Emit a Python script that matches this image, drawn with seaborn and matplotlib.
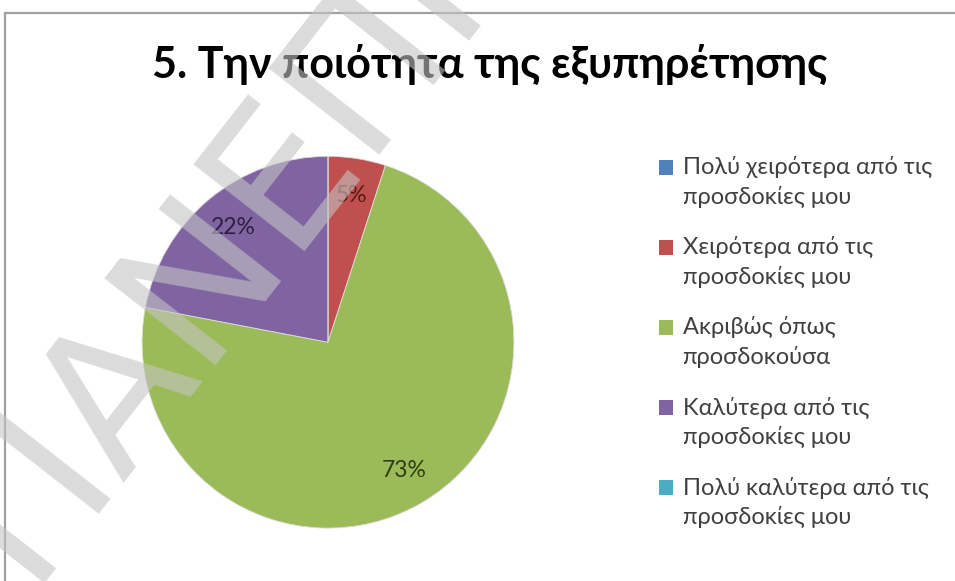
import matplotlib
matplotlib.use("Agg")
import matplotlib.pyplot as plt
import seaborn as sns
from matplotlib.lines import Line2D
from matplotlib.patches import Patch, Rectangle
from matplotlib.legend_handler import HandlerPatch

sns.set_theme(style="white")
plt.rcParams["font.family"] = ["Lato", "DejaVu Sans"]

# Survey answers and their shares (%)
categories = [
    "Πολύ χειρότερα από τις\nπροσδοκίες μου",
    "Χειρότερα από τις\nπροσδοκίες μου",
    "Ακριβώς όπως\nπροσδοκούσα",
    "Καλύτερα από τις\nπροσδοκίες μου",
    "Πολύ καλύτερα από τις\nπροσδοκίες μου",
]
shares = [0, 5, 73, 22, 0]
colors = ["#4F81BD", "#C0504D", "#9BBB59", "#8064A2", "#4BACC6"]
title = "5. Την ποιότητα της εξυπηρέτησης"
watermark = "ΠΑΝΕΠΙΣΤΗΜΙΟ"

fig = plt.figure(figsize=(9.55, 5.81), dpi=100)
fig.patch.set_facecolor("white")

# chart frame (top and left edges visible)
fig.add_artist(Line2D([0.005, 1.0], [0.978, 0.978], color="#a0a0a0", lw=1.6,
                      transform=fig.transFigure))
fig.add_artist(Line2D([0.005, 0.005], [0.0, 0.978], color="#a0a0a0", lw=1.6,
                      transform=fig.transFigure))

ax = fig.add_axes([0.1487, 0.091, 0.3895, 0.640])


def pct_label(p):
    return f"{p:.0f}%" if p > 0.5 else ""


wedges, _, autotexts = ax.pie(
    shares, colors=colors, startangle=90, counterclock=False,
    autopct=pct_label, pctdistance=0.8,
    wedgeprops=dict(edgecolor="#dddddd", linewidth=0.6),
    textprops=dict(fontsize=16.5, color="#2a2a2a"),
)
autotexts[1].set_color("#5a1a18")
autotexts[2].set_color("#2f3d14")
autotexts[3].set_color("#2c2040")
ax.set_xlim(-1, 1)
ax.set_ylim(-1, 1)
ax.set_aspect("equal")
ax.axis("off")

fig.text(0.5126, 0.866, title, ha="center", va="baseline", fontsize=31,
         fontweight="bold", color="black")

# legend squares sit beside the first line of each two-line label
LEG_FS = 17
LINE_SPACING = 1.43
SHIFT = 11.0  # points


def top_square(legend, orig_handle, xdescent, ydescent, width, height, fontsize):
    return Rectangle((-xdescent, -ydescent + SHIFT), width, height)


handles = [Patch(facecolor=w.get_facecolor(), edgecolor="none") for w in wedges]
leg = fig.legend(
    handles, categories, loc="upper left", bbox_to_anchor=(0.690, 0.731),
    frameon=False, fontsize=LEG_FS, labelcolor="#404040",
    handlelength=0.6, handleheight=0.6, handletextpad=0.4,
    labelspacing=1.2, borderpad=0, borderaxespad=0,
    handler_map={Patch: HandlerPatch(patch_func=top_square)},
)
for t in leg.get_texts():
    t.set_linespacing(LINE_SPACING)

# diagonal watermark
fig.text(0.028, -0.003, watermark, rotation=52, rotation_mode="anchor",
         ha="left", va="baseline", fontsize=139, color="#c4c4c4", alpha=0.6,
         family=["DejaVu Sans"])

fig.savefig("out.png", dpi=100, facecolor="white")
